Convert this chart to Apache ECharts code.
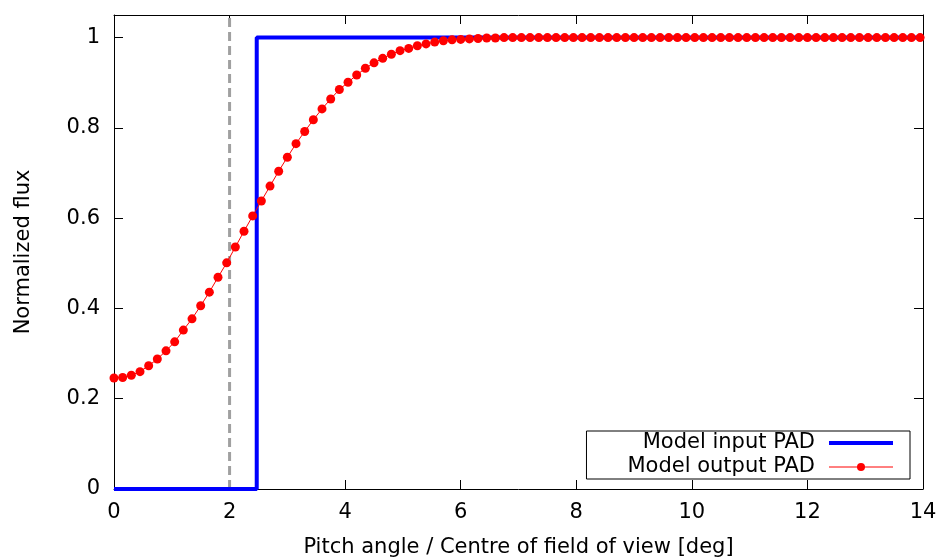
<!DOCTYPE html>
<html>
<head>
<meta charset="utf-8">
<script src="https://cdn.jsdelivr.net/npm/echarts@6/dist/echarts.min.js"></script>
<style>html,body{margin:0;padding:0;background:#fff}#c{width:940px;height:560px}</style>
</head>
<body>
<div id="c"></div>
<script>
const xTicks = [0, 2, 4, 6, 8, 10, 12, 14];
const yTicks = [0, 0.2, 0.4, 0.6, 0.8, 1];
const refAngle = 2.0;
const inputX = [0, 2.47, 2.47, 14];
const inputY = [0, 0, 1, 1];
const outputX = [
 0.00,0.15,0.30,0.45,0.60,0.75,0.90,1.05,1.20,1.35,1.50,1.65,1.80,1.95,2.10,2.25,2.40,2.55,2.70,2.85,
 3.00,3.15,3.30,3.45,3.60,3.75,3.90,4.05,4.20,4.35,4.50,4.65,4.80,4.95,5.10,5.25,5.40,5.55,5.70,5.85,
 6.00,6.15,6.30,6.45,6.60,6.75,6.90,7.05,7.20,7.35,7.50,7.65,7.80,7.95,8.10,8.25,8.40,8.55,8.70,8.85,
 9.00,9.15,9.30,9.45,9.60,9.75,9.90,10.05,10.20,10.35,10.50,10.65,10.80,10.95,11.10,11.25,11.40,11.55,11.70,11.85,
 12.00,12.15,12.30,12.45,12.60,12.75,12.90,13.05,13.20,13.35,13.50,13.65,13.80,13.95
];
const outputY = [
 0.246,0.247,0.252,0.260,0.273,0.288,0.306,0.326,0.352,0.377,0.406,0.436,0.469,0.501,0.536,0.571,0.605,0.638,0.671,0.704,
 0.735,0.765,0.792,0.818,0.842,0.864,0.885,0.901,0.917,0.932,0.944,0.954,0.963,0.971,0.976,0.982,0.986,0.990,0.993,0.995,
 0.996,0.997,0.998,0.999,0.999,1,1,1,1,1,1,1,1,1,1,1,1,1,1,1,
 1,1,1,1,1,1,1,1,1,1,1,1,1,1,1,1,1,1,1,1,
 1,1,1,1,1,1,1,1,1,1,1,1,1,1
];

const FONT = 'DejaVu Sans';
const FS = 21;
const zip = (a, b) => a.map((v, i) => [v, b[i]]);
const xMin = xTicks[0], xMax = xTicks[xTicks.length - 1];
const yMin = yTicks[0], yMax = 1.05;

const chart = echarts.init(document.getElementById('c'), null, {renderer: 'canvas'});
const axisCommon = {
  axisLine: {show: true, onZero: false, lineStyle: {color: '#000', width: 1}},
  axisTick: {show: true, inside: true, length: 9, lineStyle: {color: '#000', width: 1}},
  splitLine: {show: false}
};
chart.setOption({
  animation: false,
  backgroundColor: '#fff',
  grid: {left: 114, right: 17, top: 15, bottom: 71, containLabel: false, outerBoundsMode: 'none'},
  xAxis: [
    Object.assign({type: 'value', position: 'bottom', min: xMin, max: xMax, interval: 2,
      name: 'Pitch angle / Centre of field of view [deg]', nameLocation: 'middle', nameGap: 48,
      nameTextStyle: {fontFamily: FONT, fontSize: FS, color: '#000'},
      axisLabel: {fontFamily: FONT, fontSize: FS, color: '#000', margin: 13}}, axisCommon),
    Object.assign({type: 'value', position: 'top', min: xMin, max: xMax, interval: 2,
      axisLabel: {show: false}}, axisCommon)
  ],
  yAxis: [
    Object.assign({type: 'value', position: 'left', min: yMin, max: yMax, interval: 0.2,
      name: 'Normalized flux', nameLocation: 'middle', nameGap: 80,
      nameTextStyle: {fontFamily: FONT, fontSize: FS, color: '#000'},
      axisLabel: {fontFamily: FONT, fontSize: FS, color: '#000', margin: 14, showMaxLabel: false}}, axisCommon),
    Object.assign({type: 'value', position: 'right', min: yMin, max: yMax, interval: 0.2,
      axisLabel: {show: false}}, axisCommon)
  ],
  legend: {
    data: [
      {name: 'Model input PAD', itemStyle: {opacity: 0}, lineStyle: {width: 4, color: '#0000ff'}},
      {name: 'Model output PAD', lineStyle: {width: 1, color: '#ff0000'}}
    ],
    orient: 'vertical', right: 30, bottom: 81, align: 'right',
    itemWidth: 64, itemHeight: 10, itemGap: 2,
    padding: [1, 15, 1, 41],
    borderColor: '#000', borderWidth: 1, borderRadius: 0,
    textStyle: {fontFamily: FONT, fontSize: FS, color: '#000', lineHeight: 22, padding: [0, 9, 0, 0]}
  },
  series: [
    {
      name: 'ref', type: 'line', silent: true, symbol: 'none', clip: false,
      data: [[refAngle, yMin], [refAngle, yMax]],
      lineStyle: {color: '#a0a0a0', width: 3, type: [9, 5]}
    },
    {
      name: 'Model input PAD', type: 'line', symbol: 'none', clip: false,
      data: zip(inputX, inputY),
      lineStyle: {color: '#0000ff', width: 4},
      itemStyle: {color: '#0000ff'}
    },
    {
      name: 'Model output PAD', type: 'line', symbol: 'circle', symbolSize: 9, clip: false,
      data: zip(outputX, outputY),
      lineStyle: {color: '#ff0000', width: 1},
      itemStyle: {color: '#ff0000'}
    }
  ]
});
</script>
</body>
</html>
